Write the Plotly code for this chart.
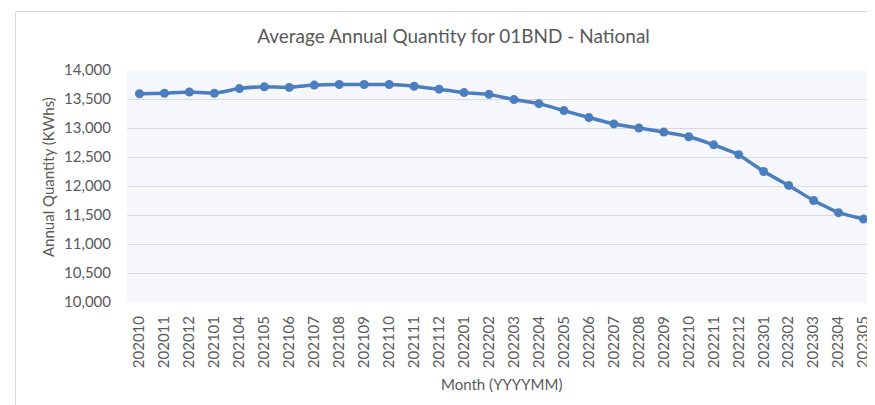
import plotly.graph_objects as go

months = ["202010", "202011", "202012", "202101", "202104", "202105", "202106",
          "202107", "202108", "202109", "202110", "202111", "202112", "202201",
          "202202", "202203", "202204", "202205", "202206", "202207", "202208",
          "202209", "202210", "202211", "202212", "202301", "202302", "202303",
          "202304", "202305"]
quantity = [13590, 13600, 13620, 13600, 13680, 13710, 13700, 13740, 13750, 13750,
            13750, 13720, 13670, 13610, 13580, 13490, 13420, 13300, 13180, 13070,
            13000, 12930, 12850, 12710, 12540, 12250, 12010, 11750, 11540, 11430]
y_ticks = [10000, 10500, 11000, 11500, 12000, 12500, 13000, 13500, 14000]

W, H = 875, 405
L, R, T, B = 119, 868, 62, 294
pw, ph = R - L, B - T
FONT = "Lato, 'Open Sans', sans-serif"
GREY = "#595959"

fig = go.Figure()
fig.add_trace(go.Scatter(
    x=months, y=quantity, mode="lines+markers",
    line=dict(color="#4A7EBF", width=3.5, shape="spline", smoothing=0.3),
    marker=dict(color="#4A7EBF", size=9),
    hoverinfo="x+y", showlegend=False,
))

fig.update_layout(
    width=W, height=H,
    margin=dict(l=L, r=W - R, t=T, b=H - B, pad=0),
    paper_bgcolor="white",
    plot_bgcolor="#F6F7FD",
    font=dict(family=FONT, color=GREY),
    title=dict(text="Average Annual Quantity for 01BND - National",
               x=445.5 / W, xref="container", xanchor="center",
               y=1 - 28 / H, yref="container", yanchor="middle",
               font=dict(size=19, color=GREY, family=FONT)),
    xaxis=dict(type="category", range=[-0.5, len(months) - 0.5],
               tickangle=-90, tickfont=dict(size=15, color=GREY),
               showgrid=False, ticks="", ticklabelstandoff=10,
               showline=False, zeroline=False),
    yaxis=dict(range=[10000, 14000], tickvals=y_ticks,
               tickformat=",d", tickfont=dict(size=15, color=GREY),
               showgrid=True, gridcolor="#D9D9D9", gridwidth=1,
               ticks="", ticklabelstandoff=15, zeroline=False, showline=False),
    annotations=[
        dict(text="Annual Quantity (KWhs)", textangle=-90,
             x=0, y=(B - 169) / ph, xref="paper", yref="paper",
             xanchor="center", yanchor="middle", xshift=40 - L,
             showarrow=False, font=dict(size=15, color=GREY, family=FONT)),
        dict(text="Month (YYYYMM)",
             x=0.5, y=0, xref="paper", yref="paper",
             xanchor="center", yanchor="middle", yshift=-(376 - B),
             showarrow=False, font=dict(size=15, color=GREY, family=FONT)),
    ],
    shapes=[dict(type="rect", xref="paper", yref="paper",
                 x0=(7.5 - L) / pw, x1=(885 - L) / pw,
                 y0=(B - 403.5) / ph, y1=(B - 3.5) / ph,
                 line=dict(color="#D9D9D9", width=1), fillcolor="rgba(0,0,0,0)",
                 layer="below")],
)

fig.write_html("out.html")
